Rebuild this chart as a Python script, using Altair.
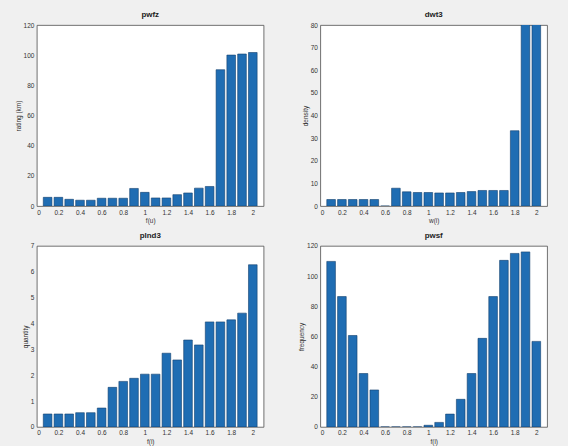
import altair as alt
import pandas as pd

# Bin centres shared by every panel
bin_centers = [0.1, 0.2, 0.3, 0.4, 0.5, 0.6, 0.7, 0.8, 0.9, 1.0,
               1.1, 1.2, 1.3, 1.4, 1.5, 1.6, 1.7, 1.8, 1.9, 2.0]

pwfz = [5.8, 5.8, 4.5, 3.9, 3.9, 5.2, 5.2, 5.2, 11.7, 9.1,
        5.4, 5.4, 7.6, 8.7, 11.9, 13.0, 90.4, 100.1, 100.8, 101.8]
dwt3 = [2.9, 2.9, 2.9, 2.9, 2.9, 0.0, 7.9, 6.3, 6.0, 6.0,
        5.8, 5.8, 6.0, 6.4, 6.9, 6.9, 6.9, 33.3, 120.0, 180.0]
plnd3 = [0.5, 0.5, 0.5, 0.55, 0.55, 0.73, 1.53, 1.76, 1.88, 2.04,
         2.04, 2.85, 2.59, 3.36, 3.17, 4.06, 4.06, 4.14, 4.4, 6.27]
pwsf = [109.7, 86.4, 60.6, 35.4, 24.5, 0.0, 0.0, 0.0, 0.0, 1.1,
        3.0, 8.5, 18.3, 35.4, 58.7, 86.4, 110.4, 115.0, 116.0, 56.7]

x_ticks = [0, 0.2, 0.4, 0.6, 0.8, 1, 1.2, 1.4, 1.6, 1.8, 2]

BLUE = "#1f6db3"
EDGE = "#12406e"
FONT = "Liberation Sans"
W, H = 228, 182


def panel(values, title, x_title, y_title, y_max, y_step):
    df = pd.DataFrame({"c": bin_centers, "v": values})
    y_ticks = [i * y_step for i in range(int(round(y_max / y_step)) + 1)]
    return (
        alt.Chart(df)
        .transform_calculate(lo="datum.c - 0.04", hi="datum.c + 0.04")
        .mark_bar(color=BLUE, stroke=EDGE, strokeWidth=0.6, clip=True)
        .encode(
            x=alt.X("lo:Q",
                    scale=alt.Scale(domain=[0, 2.1], nice=False, zero=False),
                    axis=alt.Axis(values=x_ticks, format="~g", title=x_title)),
            x2="hi:Q",
            y=alt.Y("v:Q",
                    scale=alt.Scale(domain=[0, y_max], nice=False),
                    axis=alt.Axis(values=y_ticks, format="d", title=y_title)),
            y2=alt.datum(0),
        )
        .properties(width=W, height=H,
                    title=alt.TitleParams(title, fontSize=8, fontWeight="bold",
                                          font=FONT, color="#222", offset=3))
    )


tl = panel(pwfz, "pwfz", "f(u)", "rating (km)", 120, 20)
tr = panel(dwt3, "dwt3", "w(i)", "density", 80, 10)
bl = panel(plnd3, "plnd3", "f(i)", "quantity", 7, 1)
br = panel(pwsf, "pwsf", "f(i)", "frequency", 120, 20)

chart = (
    alt.concat(tl, tr, bl, br, columns=2,
               spacing={"row": 40, "column": 57}, bounds="flush")
    .properties(background="#f0f0f0",
                padding={"left": 14, "top": 9, "right": 20, "bottom": 0})
    .configure_view(stroke="#4d4d4d", strokeWidth=0.8, fill="white")
    .configure_axis(grid=False, domain=False, ticks=False,
                    labelFont=FONT, titleFont=FONT,
                    labelFontSize=6.5, titleFontSize=6.5,
                    labelColor="#333", titleColor="#333",
                    labelPadding=3, titlePadding=2, titleFontWeight="normal")
)

chart.save("out.html", embed_options={"renderer": "svg", "actions": False})
